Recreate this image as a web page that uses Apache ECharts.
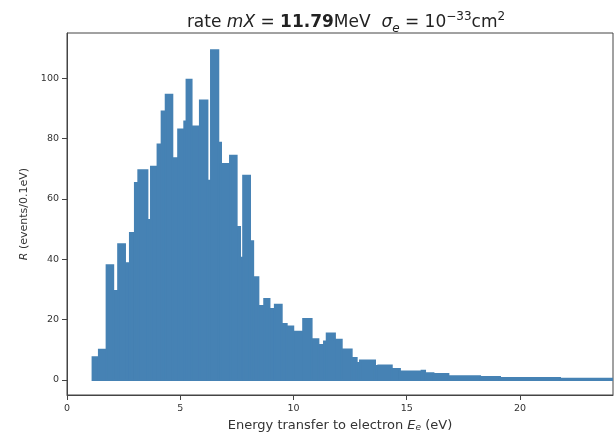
<!DOCTYPE html>
<html>
<head>
<meta charset="utf-8">
<script src="https://cdn.jsdelivr.net/npm/echarts@6/dist/echarts.min.js"></script>
<style>html,body{margin:0;padding:0;background:#fff}#c{width:616px;height:434px}</style>
</head>
<body>
<div id="c"></div>
<script>
// Histogram bin edges (eV) and counts (events per bin)
var binEdges = [1.13,1.41,1.75,2.04,2.26,2.56,2.78,3.00,3.15,3.55,3.71,4.00,4.18,4.36,4.65,4.91,5.18,5.28,5.50,5.87,6.20,6.36,6.68,6.80,7.20,7.49,7.64,7.78,8.08,8.22,8.45,8.71,8.94,9.18,9.48,9.70,9.99,10.43,10.80,11.10,11.35,11.47,11.83,12.13,12.57,12.79,12.94,13.60,13.75,14.34,14.70,15.66,15.81,16.18,16.84,18.24,19.12,21.77,24.11];
var counts = [7.5,10,38,29.5,45,38.7,48.7,65.3,69.5,53,70.7,78,89,94.5,73.5,83,85.7,99.5,84,92.6,66,109.3,78.6,71.6,74.3,50.7,40.5,67.7,46,34,24.5,26.8,23.5,24.9,18.5,17.7,16,20.2,13.5,11.6,12.7,15.4,13.3,10.1,7.3,5.6,6.4,4.6,4.8,3.6,2.8,3.0,2.2,2.0,1.2,1.0,0.6,0.4];
var xTicks = [0,5,10,15,20];
var yTicks = [0,20,40,60,80,100];

var data = counts.map(function(v,i){ return [binEdges[i], binEdges[i+1], v]; });
var color = '#4682b4';
var chart = echarts.init(document.getElementById('c'), null, {renderer:'canvas'});
var font = 'DejaVu Sans';
chart.setOption({
  animation:false,
  title:{
    left:341, top:6, textAlign:'center',
    text:'{n|rate }{i|mX}{n| = }{b|11.79}{n|MeV  }{i|σ}{sub|e}{n| = 10}{sup|−33}{n|cm}{sup|2}',
    textStyle:{
      fontFamily:font, fontSize:17, fontWeight:'normal', color:'#222',
      rich:{
        n:{fontFamily:font,fontSize:17,fontWeight:'normal',color:'#222',lineHeight:24},
        i:{fontFamily:font,fontSize:17,fontWeight:'normal',fontStyle:'italic',color:'#222',lineHeight:24},
        b:{fontFamily:font,fontSize:17,fontWeight:'bold',color:'#222',lineHeight:24},
        sub:{fontFamily:font,fontSize:12,fontWeight:'normal',fontStyle:'italic',color:'#222',lineHeight:24,verticalAlign:'bottom'},
        sup:{fontFamily:font,fontSize:12,fontWeight:'normal',color:'#222',lineHeight:24,verticalAlign:'top'}
      }
    }
  },
  grid:{left:67, right:3, top:33, bottom:39, show:true, borderColor:'#444', borderWidth:1, containLabel:false, outerBoundsMode:'none'},
  xAxis:{
    type:'value', min:0, max:24.11,
    name:'Energy transfer to electron {i|E}{sub|e} (eV)',
    nameLocation:'middle', nameGap:22,
    nameTextStyle:{fontFamily:font,fontSize:13,color:'#333',
      rich:{i:{fontFamily:font,fontSize:13,fontStyle:'italic',color:'#333'},
            sub:{fontFamily:font,fontSize:9,fontStyle:'italic',color:'#333',verticalAlign:'bottom'}}},
    axisLine:{show:true,onZero:false,lineStyle:{color:'#444',width:1}},
    axisTick:{show:true,length:5,inside:false,customValues:xTicks,lineStyle:{color:'#444'}},
    axisLabel:{customValues:xTicks,fontFamily:font,fontSize:9.5,color:'#333',margin:9},
    splitLine:{show:false}
  },
  yAxis:{
    type:'value', min:-5, max:115,
    name:'{i|R} (events/0.1eV)',
    nameLocation:'middle', nameGap:36, nameRotate:90,
    nameTextStyle:{fontFamily:font,fontSize:11,color:'#333',
      rich:{i:{fontFamily:font,fontSize:11,fontStyle:'italic',color:'#333'}}},
    axisLine:{show:true,onZero:false,lineStyle:{color:'#444',width:1}},
    axisTick:{show:true,length:5,customValues:yTicks,lineStyle:{color:'#444'}},
    axisLabel:{customValues:yTicks,fontFamily:font,fontSize:9.5,color:'#333',margin:8},
    splitLine:{show:false}
  },
  series:[{
    type:'custom',
    clip:true,
    encode:{x:[0,1], y:2},
    data:data,
    renderItem:function(params, api){
      var p0 = api.coord([api.value(0), 0]);
      var p1 = api.coord([api.value(1), api.value(2)]);
      return {
        type:'rect',
        shape:{x:p0[0], y:p1[1], width:p1[0]-p0[0], height:p0[1]-p1[1]},
        style:{fill:color, stroke:color, lineWidth:2}
      };
    }
  }]
});
</script>
</body>
</html>
